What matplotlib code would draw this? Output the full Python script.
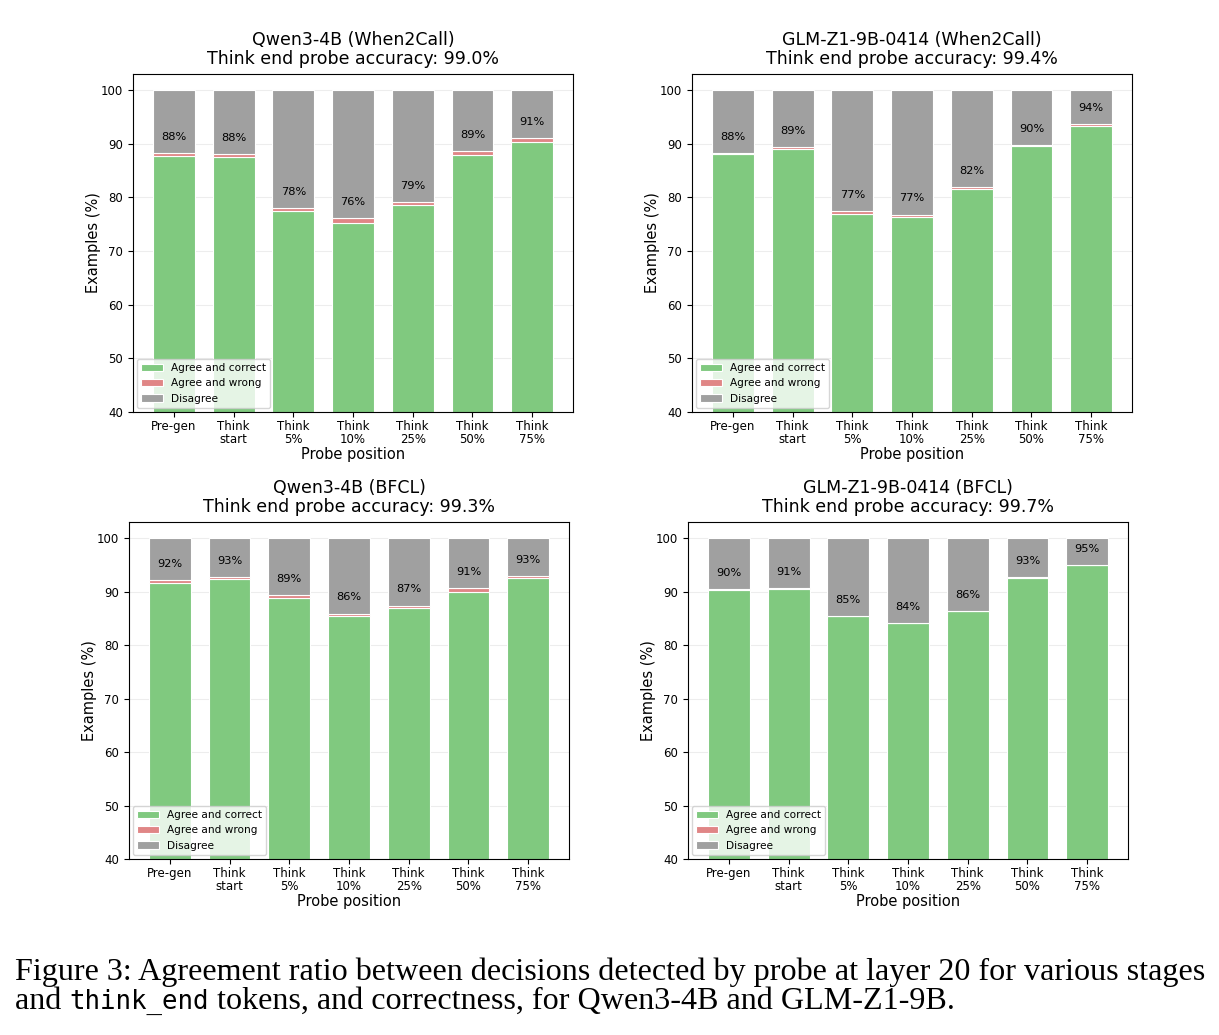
import numpy as np
import matplotlib
matplotlib.use("Agg")
import matplotlib.pyplot as plt

positions = ["Pre-gen", "Think\nstart", "Think\n5%", "Think\n10%",
             "Think\n25%", "Think\n50%", "Think\n75%"]

# agree & correct / agree & wrong (% of examples)
qwen_w2c_correct = [87.8, 87.6, 77.4, 75.3, 78.6, 87.9, 90.4]
qwen_w2c_wrong = [0.4, 0.4, 0.6, 0.8, 0.6, 0.7, 0.6]
glm_w2c_correct = [88.0, 89.1, 77.0, 76.4, 81.5, 89.5, 93.3]
glm_w2c_wrong = [0.3, 0.3, 0.4, 0.4, 0.4, 0.2, 0.4]
qwen_bfcl_correct = [91.6, 92.3, 88.8, 85.4, 86.9, 90.0, 92.5]
qwen_bfcl_wrong = [0.5, 0.4, 0.5, 0.5, 0.5, 0.6, 0.4]
glm_bfcl_correct = [90.3, 90.4, 85.4, 84.1, 86.4, 92.6, 94.9]
glm_bfcl_wrong = [0.1, 0.3, 0.05, 0.05, 0.05, 0.05, 0.05]

titles = ["Qwen3-4B (When2Call)\nThink end probe accuracy: 99.0%",
          "GLM-Z1-9B-0414 (When2Call)\nThink end probe accuracy: 99.4%",
          "Qwen3-4B (BFCL)\nThink end probe accuracy: 99.3%",
          "GLM-Z1-9B-0414 (BFCL)\nThink end probe accuracy: 99.7%"]

panels = [(qwen_w2c_correct, qwen_w2c_wrong),
          (glm_w2c_correct, glm_w2c_wrong),
          (qwen_bfcl_correct, qwen_bfcl_wrong),
          (glm_bfcl_correct, glm_bfcl_wrong)]

rects = [[0.1091, 0.6019, 0.361, 0.3266],
         [0.5677, 0.6019, 0.361, 0.3266],
         [0.1058, 0.1700, 0.361, 0.3256],
         [0.5644, 0.1700, 0.361, 0.3256]]

c_green = "#80c97f"
c_red = "#e08686"
c_grey = "#a0a0a0"

fig = plt.figure(figsize=(12.19, 10.35), dpi=100)

for rect, title, (corr, wrong) in zip(rects, titles, panels):
    ax = fig.add_axes(rect)
    x = np.arange(len(positions))
    corr = np.array(corr)
    wrong = np.array(wrong)
    agree = corr + wrong
    dis = 100 - agree
    ax.bar(x, corr, 0.7, color=c_green, edgecolor="white", linewidth=0.8,
           label="Agree and correct")
    ax.bar(x, wrong, 0.7, bottom=corr, color=c_red, edgecolor="white",
           linewidth=0.8, label="Agree and wrong")
    ax.bar(x, dis, 0.7, bottom=agree, color=c_grey, edgecolor="white",
           linewidth=0.8, label="Disagree")
    for xi, a in zip(x, agree):
        ax.text(xi, a + 3, f"{a:.0f}%", ha="center", va="center", fontsize=8.2)
    ax.set_ylim(40, 103)
    ax.set_xticks(x)
    ax.set_xticklabels(positions, fontsize=8.5, linespacing=0.95)
    ax.tick_params(axis="y", labelsize=8.5)
    ax.tick_params(axis="x", pad=2.5)
    ax.yaxis.grid(True, color="#dddddd", alpha=0.5, linewidth=0.8)
    ax.set_axisbelow(True)
    ax.set_xlabel("Probe position", fontsize=10.5, labelpad=1)
    ax.set_ylabel("Examples (%)", fontsize=10.5, labelpad=0)
    ax.set_title(title, fontsize=12.5, pad=7, linespacing=1.1)
    ax.legend(loc="lower left", fontsize=7.6, borderaxespad=0.4)

# caption
cap1 = ("Figure 3: Agreement ratio between decisions detected by probe at "
        "layer 20 for various stages")
serif = "Liberation Serif"
mono = "DejaVu Sans Mono"
fs = 21
r = fig.canvas.get_renderer()
t1 = fig.text(15 / 1219, 1 - 980 / 1035, cap1, fontsize=fs, family=serif,
              va="baseline")
w = t1.get_window_extent(r).width
fs = fs * 1188 / w
t1.set_fontsize(fs)

y2 = 1 - 1009 / 1035
xpos = 15
for s, fam in [("and ", serif), ("think_end", mono),
               (" tokens, and correctness, for Qwen3-4B and GLM-Z1-9B.", serif)]:
    t = fig.text(xpos / 1219, y2, s, fontsize=fs if fam == serif else fs * 0.8,
                 family=fam, va="baseline")
    xpos += t.get_window_extent(r).width

fig.savefig("out.png", dpi=100)
